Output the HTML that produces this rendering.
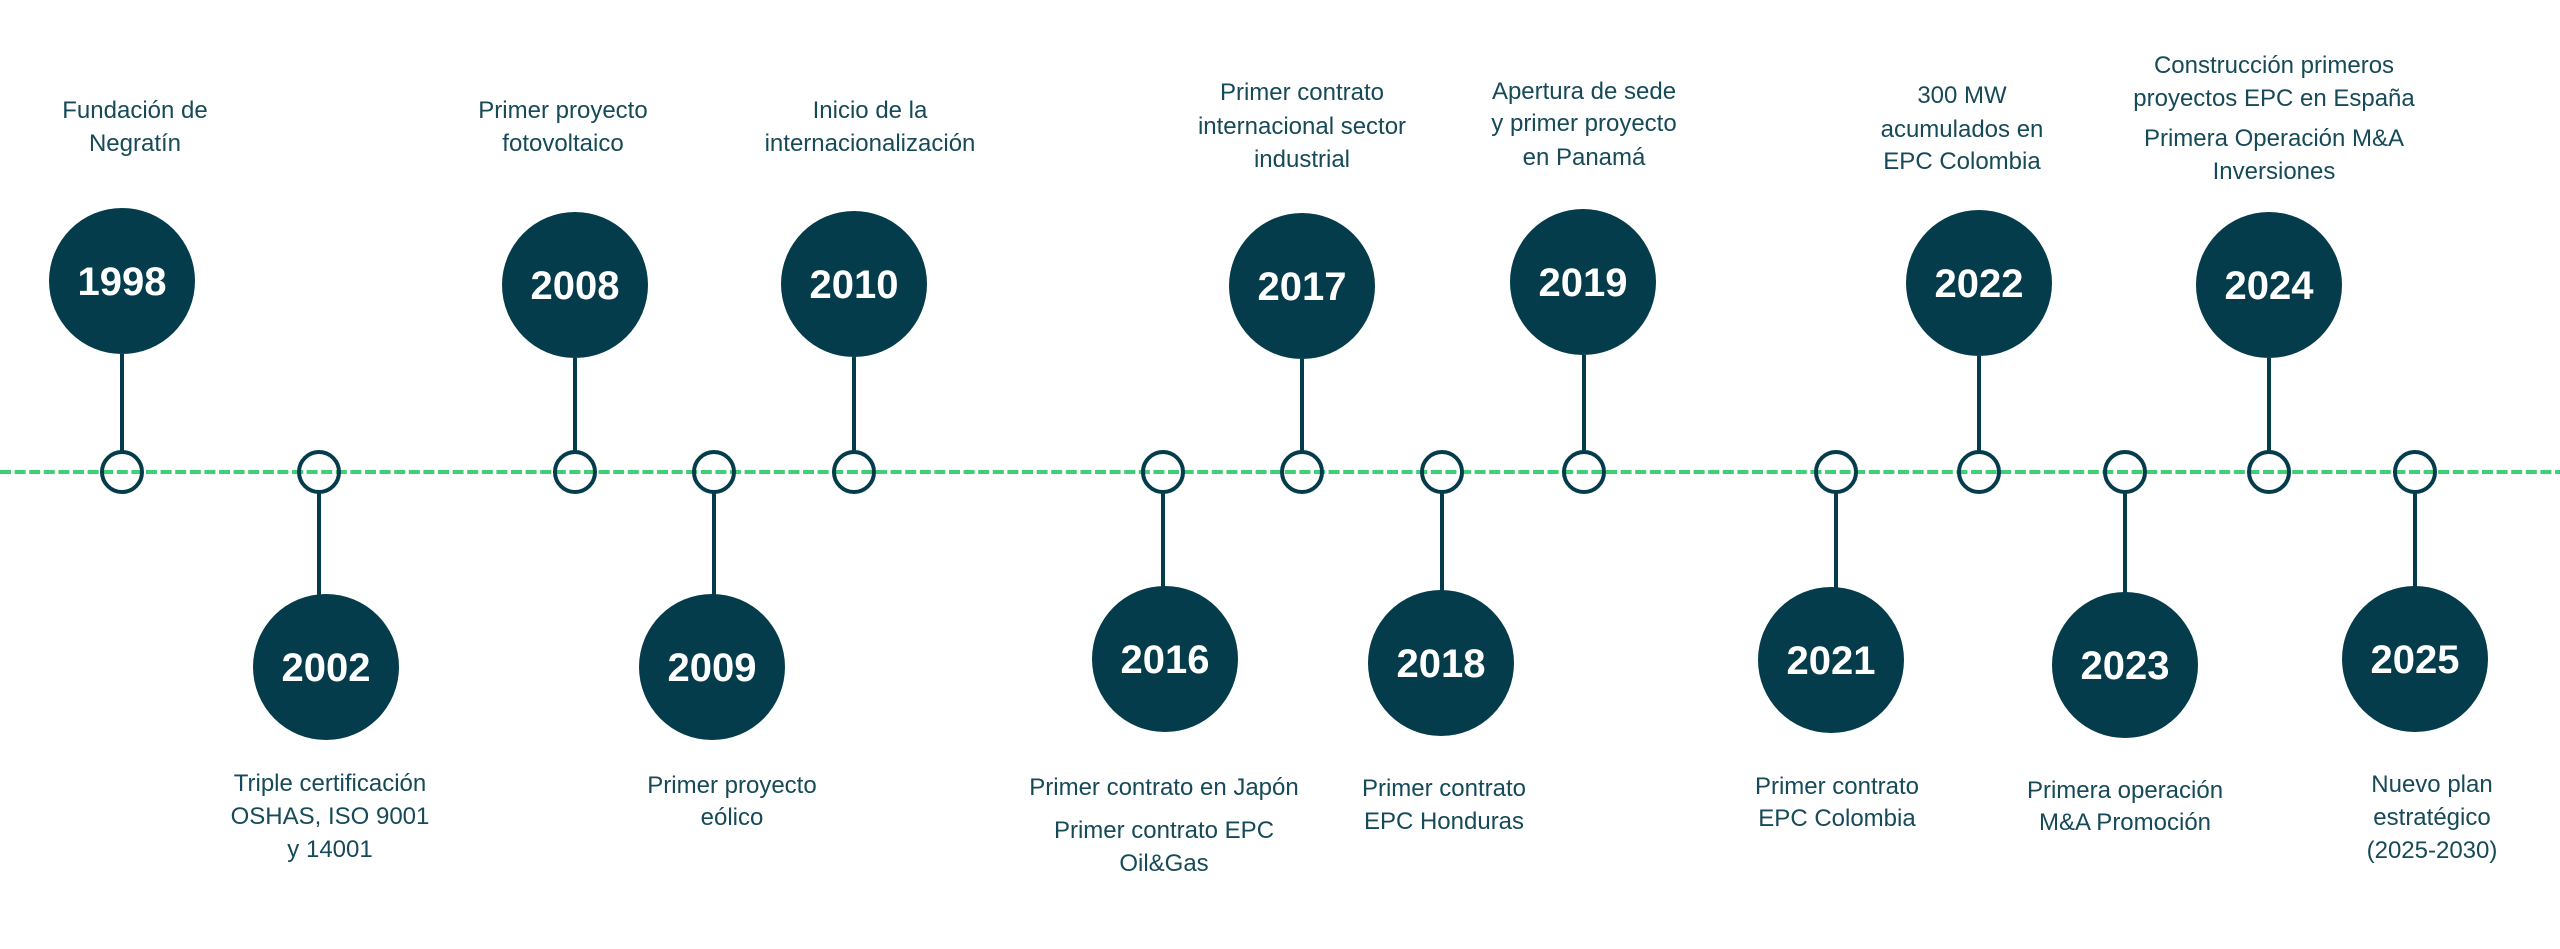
<!DOCTYPE html>
<html><head><meta charset="utf-8"><style>
html,body{margin:0;padding:0;background:#fff;}
svg{display:block;}
.lbl{font-family:"Liberation Sans",sans-serif;font-size:24px;fill:#164a58;text-anchor:middle;}
.yr{font-family:"Liberation Sans",sans-serif;font-size:40px;font-weight:bold;fill:#fff;text-anchor:middle;}
</style></head><body>
<svg width="2560" height="949" viewBox="0 0 2560 949" xmlns="http://www.w3.org/2000/svg">
<line x1="0" y1="472" x2="2560" y2="472" stroke="#3ecf78" stroke-width="4" stroke-dasharray="11 3.6"/>
<g stroke="#043c4b" stroke-width="4" fill="none">
<!-- connectors -->
<line x1="122" y1="354" x2="122" y2="452"/>
<line x1="319" y1="492" x2="319" y2="596"/>
<line x1="575" y1="358" x2="575" y2="452"/>
<line x1="714" y1="492" x2="714" y2="596"/>
<line x1="854" y1="357" x2="854" y2="452"/>
<line x1="1163" y1="492" x2="1163" y2="588"/>
<line x1="1302" y1="359" x2="1302" y2="452"/>
<line x1="1442" y1="492" x2="1442" y2="592"/>
<line x1="1584" y1="355" x2="1584" y2="452"/>
<line x1="1836" y1="492" x2="1836" y2="589"/>
<line x1="1979" y1="356" x2="1979" y2="452"/>
<line x1="2125" y1="492" x2="2125" y2="594"/>
<line x1="2269" y1="358" x2="2269" y2="452"/>
<line x1="2415" y1="492" x2="2415" y2="588"/>
<!-- small circles -->
<circle cx="122" cy="472" r="20"/>
<circle cx="319" cy="472" r="20"/>
<circle cx="575" cy="472" r="20"/>
<circle cx="714" cy="472" r="20"/>
<circle cx="854" cy="472" r="20"/>
<circle cx="1163" cy="472" r="20"/>
<circle cx="1302" cy="472" r="20"/>
<circle cx="1442" cy="472" r="20"/>
<circle cx="1584" cy="472" r="20"/>
<circle cx="1836" cy="472" r="20"/>
<circle cx="1979" cy="472" r="20"/>
<circle cx="2125" cy="472" r="20"/>
<circle cx="2269" cy="472" r="20"/>
<circle cx="2415" cy="472" r="20"/>
</g>
<g fill="#043c4b">
<circle cx="122" cy="281" r="73"/>
<circle cx="326" cy="667" r="73"/>
<circle cx="575" cy="285" r="73"/>
<circle cx="712" cy="667" r="73"/>
<circle cx="854" cy="284" r="73"/>
<circle cx="1165" cy="659" r="73"/>
<circle cx="1302" cy="286" r="73"/>
<circle cx="1441" cy="663" r="73"/>
<circle cx="1583" cy="282" r="73"/>
<circle cx="1831" cy="660" r="73"/>
<circle cx="1979" cy="283" r="73"/>
<circle cx="2125" cy="665" r="73"/>
<circle cx="2269" cy="285" r="73"/>
<circle cx="2415" cy="659" r="73"/>
</g>
<g class="yr">
<text class="yr" x="122" y="295">1998</text>
<text class="yr" x="326" y="681">2002</text>
<text class="yr" x="575" y="299">2008</text>
<text class="yr" x="712" y="681">2009</text>
<text class="yr" x="854" y="298">2010</text>
<text class="yr" x="1165" y="673">2016</text>
<text class="yr" x="1302" y="300">2017</text>
<text class="yr" x="1441" y="677">2018</text>
<text class="yr" x="1583" y="296">2019</text>
<text class="yr" x="1831" y="674">2021</text>
<text class="yr" x="1979" y="297">2022</text>
<text class="yr" x="2125" y="679">2023</text>
<text class="yr" x="2269" y="299">2024</text>
<text class="yr" x="2415" y="673">2025</text>
</g>
<text class="lbl" x="135" y="118">Fundación de</text>
<text class="lbl" x="135" y="151">Negratín</text>
<text class="lbl" x="563" y="118">Primer proyecto</text>
<text class="lbl" x="563" y="151">fotovoltaico</text>
<text class="lbl" x="870" y="118">Inicio de la</text>
<text class="lbl" x="870" y="151">internacionalización</text>
<text class="lbl" x="1302" y="100">Primer contrato</text>
<text class="lbl" x="1302" y="134">internacional sector</text>
<text class="lbl" x="1302" y="167">industrial</text>
<text class="lbl" x="1584" y="99">Apertura de sede</text>
<text class="lbl" x="1584" y="131">y primer proyecto</text>
<text class="lbl" x="1584" y="165">en Panamá</text>
<text class="lbl" x="1962" y="103">300 MW</text>
<text class="lbl" x="1962" y="137">acumulados en</text>
<text class="lbl" x="1962" y="169">EPC Colombia</text>
<text class="lbl" x="2274" y="73">Construcción primeros</text>
<text class="lbl" x="2274" y="106">proyectos EPC en España</text>
<text class="lbl" x="2274" y="146">Primera Operación M&amp;A</text>
<text class="lbl" x="2274" y="179">Inversiones</text>
<text class="lbl" x="330" y="791">Triple certificación</text>
<text class="lbl" x="330" y="824">OSHAS, ISO 9001</text>
<text class="lbl" x="330" y="857">y 14001</text>
<text class="lbl" x="732" y="793">Primer proyecto</text>
<text class="lbl" x="732" y="825">eólico</text>
<text class="lbl" x="1164" y="795">Primer contrato en Japón</text>
<text class="lbl" x="1164" y="838">Primer contrato EPC</text>
<text class="lbl" x="1164" y="871">Oil&amp;Gas</text>
<text class="lbl" x="1444" y="796">Primer contrato</text>
<text class="lbl" x="1444" y="829">EPC Honduras</text>
<text class="lbl" x="1837" y="794">Primer contrato</text>
<text class="lbl" x="1837" y="826">EPC Colombia</text>
<text class="lbl" x="2125" y="798">Primera operación</text>
<text class="lbl" x="2125" y="830">M&amp;A Promoción</text>
<text class="lbl" x="2432" y="792">Nuevo plan</text>
<text class="lbl" x="2432" y="825">estratégico</text>
<text class="lbl" x="2432" y="858">(2025-2030)</text>
</svg>
</body></html>
